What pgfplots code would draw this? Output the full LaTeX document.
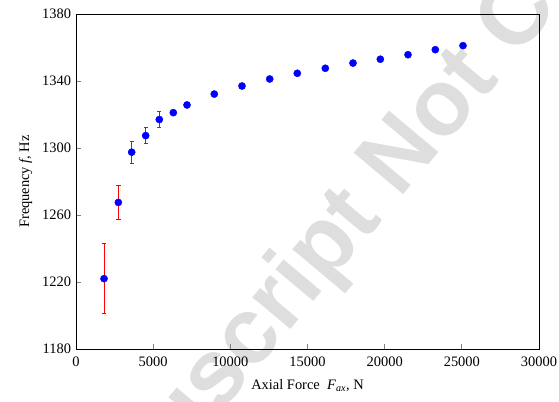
\documentclass[border=0pt]{standalone}
\usepackage{fontspec}
\setmainfont{Liberation Serif}
\newfontfamily\wmfont{Liberation Sans}
\usepackage{pgfplots}
\usepackage{pgfplotstable}
\pgfplotsset{compat=1.18}
\pgfplotstableread{
x y e
1815 1222.0 20.7
2743 1267.5 10.3
3609 1297.5 6.5
4516 1307.4 4.7
5397 1317.0 4.5
6305 1321.1 0.5
7192 1325.7 0.5
8961 1332.2 1.3
10756 1337.0 1.3
12551 1341.2 0.5
14339 1344.6 0.5
16154 1347.6 1.0
17948 1350.7 0.5
19718 1353.0 0.5
21512 1355.7 0.5
23281 1358.7 0.5
25076 1361.1 0.5
}\datatable
\begin{document}
\fontsize{14.5}{17}\selectfont
\begin{tikzpicture}
\node[rotate=50, anchor=base west, text=black!13, font=\wmfont\bfseries\fontsize{94}{94}\selectfont, inner sep=0pt] at (-14bp,-253bp) {Manuscript Not Copyedited};
\begin{axis}[
  scale only axis, width=463bp, height=335bp,
  xmin=0, xmax=30000, ymin=1180, ymax=1380,
  xtick={0,5000,...,30000}, ytick={1180,1220,...,1380},
  tick align=inside, xtick pos=bottom, ytick pos=left,
  major tick length=5bp,
  axis line style={line width=0.8pt},
  tick style={line width=0.8pt},
  scaled x ticks=false,
  /pgf/number format/assume math mode=true,
  /pgf/number format/1000 sep={},
  xticklabel style={yshift=-3bp},
  xlabel={Axial Force\ \ \textit{F}\textsubscript{\textit{ax}}, N},
  xlabel style={yshift=-3bp},
  ylabel={Frequency \textit{f}, Hz},
  label style={font=\fontsize{14.5}{17}\selectfont},
  ticklabel style={font=\fontsize{14.5}{17}\selectfont},
]
\addplot[red, draw=red, line width=1pt, mark=none, only marks,
  mark options={draw=red},
  error bars/.cd, y dir=both, y explicit,
  error bar style={draw=red, line width=1pt},
  error mark=|,
  error mark options={draw=red, color=red, mark size=2.2pt, line width=1pt}]
  table[x=x, y=y, y error=e] {\datatable};
\addplot[only marks, mark=*, mark size=3.6pt, blue, mark options={draw=blue, fill=blue}]
  table[x=x, y=y] {\datatable};
\end{axis}
\pgfresetboundingbox
\path[use as bounding box] (-76bp,-53bp) rectangle (483bp,349bp);
\end{tikzpicture}
\end{document}
